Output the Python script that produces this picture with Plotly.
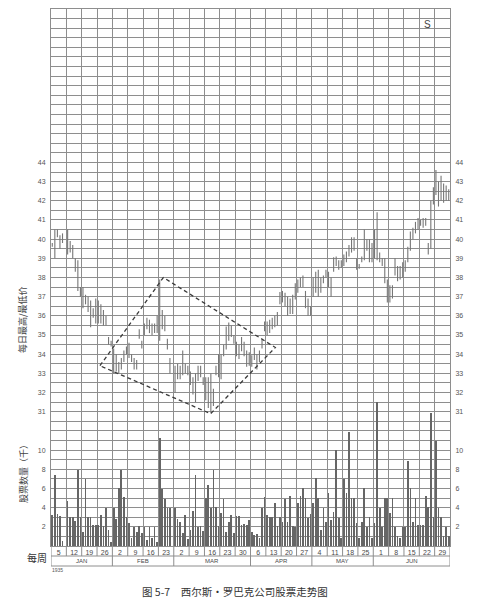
import plotly.graph_objects as go

# ---------------- data ----------------
week_labels = ["5", "12", "19", "26", "2", "9", "16", "23", "2", "9", "16", "23", "30",
               "6", "13", "20", "27", "4", "11", "18", "25", "1", "8", "15", "22", "29"]
month_names = ["JAN", "FEB", "MAR", "APR", "MAY", "JUN"]
weeks_per_month = [4, 4, 5, 4, 4, 5]
year_label = "1935"

# daily highs / lows grouped by week (one inner list per week)
price_high = [
    [39.8, 40.5, 40.5, 40.2, 40.3],
    [40.5, 39.9, 39.7, 39.0, 38.9, 37.5],
    [37.5, 37.1, 37.0, 36.8, 36.4, 36.9],
    [36.8, 36.6, 36.3, 36.0, 34.9, 34.7],
    [34.3, 34.0, 33.6, 33.8, 34.2, 34.4],
    [34.6, 34.0, 33.8, 33.7, 35.3, 34.7],
    [35.6, 35.9, 35.8, 35.6, 35.6, 36.0],
    [37.9, 36.3, 36.0, 34.8, 33.8],
    [33.4, 33.5, 33.4, 34.2, 33.5, 33.4],
    [33.1, 32.8, 33.0, 33.4, 33.4, 32.8],
    [32.8, 32.8, 33.0, 32.2, 33.4, 34.0],
    [34.0, 34.5, 35.45, 35.65, 35.5, 35.0],
    [34.65, 34.5, 34.9, 34.65, 34.2, 34.1],
    [33.95, 34.35, 34.0, 34.2, 34.75, 35.7],
    [35.7, 35.8, 35.9, 36.0, 36.2, 37.25],
    [37.3, 37.2, 37.0, 36.9, 37.1, 37.7],
    [37.9, 38.0, 38.1, 37.3, 36.9, 36.5],
    [38.0, 38.3, 38.4, 38.0, 38.1, 38.4],
    [38.3, 38.0, 39.05, 39.1, 38.9, 38.9],
    [39.2, 39.35, 39.7, 40.1, 40.1, 39.0],
    [38.7, 39.1, 40.5, 40.0, 40.0, 39.8],
    [40.5, 41.4, 39.3, 39.0, 39.0, 37.9],
    [37.6, 37.6, 39.0, 38.6, 38.6, 38.8],
    [38.9, 39.6, 40.4, 40.6, 40.9, 41.1],
    [41.0, 41.1, 41.1, 39.8, 42.0, 42.7],
    [43.6, 43.0, 43.3, 42.9, 42.8, 42.6],
]
price_low = [
    [39.6, 39.0, 40.1, 39.5, 39.8],
    [39.2, 39.3, 39.0, 38.3, 37.3, 37.0],
    [36.4, 36.6, 36.2, 35.4, 35.9, 35.6],
    [35.6, 35.6, 35.5, 35.5, 34.5, 34.4],
    [33.0, 33.1, 33.0, 33.2, 33.6, 34.0],
    [33.8, 33.6, 33.2, 33.2, 34.8, 34.3],
    [35.0, 35.3, 35.1, 35.0, 35.1, 35.1],
    [34.7, 35.3, 35.2, 34.25, 33.0],
    [32.0, 32.7, 32.7, 32.9, 33.0, 32.9],
    [32.4, 31.9, 31.5, 32.6, 32.8, 32.4],
    [31.6, 31.2, 30.95, 31.3, 32.9, 32.8],
    [32.7, 33.9, 34.25, 34.7, 34.9, 34.55],
    [33.9, 33.75, 34.15, 33.9, 33.35, 33.4],
    [33.35, 33.7, 33.2, 33.6, 34.3, 35.2],
    [35.0, 35.1, 35.3, 35.4, 35.5, 36.6],
    [36.7, 36.5, 36.0, 36.1, 36.1, 36.85],
    [37.2, 37.5, 37.5, 36.4, 36.0, 36.0],
    [37.0, 37.2, 37.0, 37.2, 37.7, 38.0],
    [37.5, 37.0, 38.3, 38.6, 38.4, 38.5],
    [38.6, 38.8, 39.1, 39.3, 39.4, 38.4],
    [38.45, 38.8, 38.9, 39.4, 38.8, 38.8],
    [39.0, 38.9, 38.8, 38.6, 37.7, 36.7],
    [36.7, 36.9, 38.1, 37.8, 37.9, 38.0],
    [38.3, 38.8, 39.4, 40.0, 40.3, 40.5],
    [40.7, 40.6, 40.7, 39.2, 39.5, 41.8],
    [42.3, 41.7, 42.0, 41.9, 42.0, 42.0],
]
# daily volume (thousands of shares), grouped by week
volume = [
    [3.2, 7.4, 3.3, 3.1, 0.5],
    [4.7, 3.0, 3.0, 2.6, 7.9, 3.0],
    [1.5, 7.0, 3.0, 3.0, 2.2, 2.2],
    [2.2, 3.2, 2.1, 4.0, 1.7, 0.4],
    [4.0, 2.8, 6.0, 7.9, 5.1, 3.0],
    [2.4, 0.8, 2.0, 1.5, 2.1, 1.4],
    [2.0, 0.6, 2.0, 0.8, 2.0, 0.4],
    [11.3, 5.9, 4.9, 4.0, 4.0],
    [4.0, 2.8, 2.5, 1.4, 3.2, 0.7],
    [1.7, 3.7, 7.4, 2.0, 2.1, 1.6],
    [5.0, 6.4, 4.0, 7.9, 4.1, 2.1],
    [3.4, 4.9, 1.5, 2.5, 3.2, 1.4],
    [3.1, 3.1, 2.2, 2.3, 2.2, 2.7],
    [1.5, 1.1, 1.3, 0.8, 4.0, 5.1],
    [3.2, 3.0, 3.0, 4.5, 2.1, 3.0],
    [2.5, 4.9, 2.5, 5.2, 2.1, 2.0],
    [4.5, 5.2, 6.0, 5.0, 2.9, 3.3],
    [4.5, 7.1, 5.0, 1.7, 4.0, 2.5],
    [5.5, 2.7, 3.5, 10.0, 2.9, 0.8],
    [7.0, 5.5, 11.9, 5.0, 5.0, 2.4],
    [0.8, 2.5, 6.0, 2.0, 3.0, 0.8],
    [2.4, 15.0, 4.0, 2.0, 5.0, 5.0],
    [3.4, 5.0, 2.0, 1.0, 0.8, 2.0],
    [2.0, 8.9, 6.0, 2.5, 5.0, 2.2],
    [2.2, 2.2, 5.2, 4.1, 13.9, 3.0],
    [11.0, 4.0, 3.0, 1.0, 2.0, 1.0],
]
# dashed "diamond" (rotated rectangle) vertices: (week position, price)
diamond_x = [3.19, 7.32, 14.62, 10.4, 3.19]
diamond_y = [33.4, 38.0, 34.35, 30.9, 33.4]

price_ticks = list(range(31, 45))
volume_ticks = [2, 4, 6, 8, 10]

# ---------------- build ----------------
SLOTS = 6
GRID = "#8e8e8e"
TXT = "#4a4a4a"
FONT = "Liberation Sans, Arial, sans-serif"
CJK = "Noto Sans CJK SC, sans-serif"

# the page body has an 8px default margin: size the figure so it fits the 495x599 window
PAGE_OFF = 8
FIG_W, FIG_H = 495 - PAGE_OFF, 599 - PAGE_OFF
PLOT_L, PLOT_T, PLOT_W, PLOT_H = 51, 9, 399, 537   # plot area in window pixels

day_x, hi, lo, vol = [], [], [], []
for w, (hs, ls, vs) in enumerate(zip(price_high, price_low, volume)):
    for d, (h, l, v) in enumerate(zip(hs, ls, vs)):
        day_x.append(w + (d + 0.5) / SLOTS)
        hi.append(h)
        lo.append(l)
        vol.append(v)

lx, ly = [], []
for x, h, l in zip(day_x, hi, lo):
    lx += [x, x, None]
    ly += [l, h, None]

n_weeks = len(week_labels)
P_MIN, P_MAX = 24, 52
V_MIN, V_MAX = 0, 56

fig = go.Figure()
fig.add_trace(go.Bar(x=day_x, y=vol, yaxis="y2", width=0.045,
                     marker=dict(color="#666666", line=dict(width=0)),
                     showlegend=False, hoverinfo="skip"))
fig.add_trace(go.Scatter(x=lx, y=ly, mode="lines", line=dict(color="#767676", width=1.1),
                         showlegend=False, hoverinfo="skip", connectgaps=False))
fig.add_trace(go.Scatter(x=diamond_x, y=diamond_y, mode="lines",
                         line=dict(color="#3a3a3a", width=1.3, dash="4px,3px"),
                         showlegend=False, hoverinfo="skip"))
fig.add_trace(go.Scatter(x=[None], y=[None], yaxis="y3", showlegend=False, hoverinfo="skip"))
fig.add_trace(go.Scatter(x=[None], y=[None], yaxis="y4", showlegend=False, hoverinfo="skip"))

half_steps = [P_MIN + 0.5 * i for i in range(1, int((P_MAX - P_MIN) * 2))]
half_text = [str(int(v)) if (v == int(v) and int(v) in price_ticks) else "" for v in half_steps]

tickfont = dict(family=FONT, size=7, color="#555555")
m_l = PLOT_L - PAGE_OFF
m_t = PLOT_T - PAGE_OFF
m_r = FIG_W - m_l - PLOT_W
m_b = FIG_H - m_t - PLOT_H
fig.update_layout(
    width=FIG_W, height=FIG_H,
    margin=dict(l=m_l, r=m_r, t=m_t, b=m_b, autoexpand=False),
    paper_bgcolor="white", plot_bgcolor="white",
    bargap=0,
    xaxis=dict(range=[0, n_weeks], tickvals=[i + 0.5 for i in range(n_weeks)],
               ticktext=week_labels, ticks="", showgrid=False, zeroline=False,
               minor=dict(tickvals=list(range(n_weeks + 1)), showgrid=True,
                          gridcolor=GRID, gridwidth=1, ticks=""),
               showline=True, mirror=True, linecolor=GRID, linewidth=1,
               tickfont=dict(family=FONT, size=7, color=TXT), fixedrange=True,
               automargin=False),
    yaxis=dict(range=[P_MIN, P_MAX], tickvals=half_steps, ticktext=half_text,
               showgrid=True, gridcolor=GRID, gridwidth=1, zeroline=False,
               ticks="outside", ticklen=3, tickcolor="rgba(0,0,0,0)",
               showline=True, mirror=True, linecolor=GRID, linewidth=1,
               tickfont=tickfont, fixedrange=True, automargin=False),
    yaxis2=dict(overlaying="y", side="left", range=[V_MIN, V_MAX], tickvals=volume_ticks,
                showgrid=False, zeroline=False, showline=False,
                ticks="outside", ticklen=3, tickcolor="rgba(0,0,0,0)",
                tickfont=tickfont, fixedrange=True, automargin=False),
    yaxis3=dict(overlaying="y", side="right", range=[P_MIN, P_MAX], tickvals=price_ticks,
                showgrid=False, zeroline=False, showline=False,
                ticks="outside", ticklen=3, tickcolor="rgba(0,0,0,0)",
                tickfont=tickfont, fixedrange=True, automargin=False),
    yaxis4=dict(overlaying="y", side="right", range=[V_MIN, V_MAX], tickvals=volume_ticks,
                showgrid=False, zeroline=False, showline=False,
                ticks="outside", ticklen=3, tickcolor="rgba(0,0,0,0)",
                tickfont=tickfont, fixedrange=True, automargin=False),
)

# label rows below the chart (week row and month row)
row1 = -10 / PLOT_H
row2 = -20 / PLOT_H
shapes = []
for yy in (row1, row2):
    shapes.append(dict(type="line", xref="x", yref="paper", x0=0, x1=n_weeks, y0=yy, y1=yy,
                       line=dict(color=GRID, width=1)))
for i in range(n_weeks + 1):
    shapes.append(dict(type="line", xref="x", yref="paper", x0=i, x1=i, y0=0, y1=row1,
                       line=dict(color=GRID, width=1)))
bounds = [0]
for n in weeks_per_month:
    bounds.append(bounds[-1] + n)
for b in bounds:
    shapes.append(dict(type="line", xref="x", yref="paper", x0=b, x1=b, y0=row1, y1=row2,
                       line=dict(color=GRID, width=1)))
fig.update_layout(shapes=shapes)


def px_x(px):
    return (px - PLOT_L) / PLOT_W


def px_y(py):
    return (PLOT_T + PLOT_H - py) / PLOT_H


ann = []
for name, a, b in zip(month_names, bounds[:-1], bounds[1:]):
    ann.append(dict(x=(a + b) / 2, y=(row1 + row2) / 2, xref="x", yref="paper", text=name,
                    showarrow=False, font=dict(family=FONT, size=6, color=TXT),
                    xanchor="center", yanchor="middle"))
ann += [
    dict(x=px_x(427.7), y=px_y(24), text="S",
         font=dict(family=FONT, size=10, color="#444")),
    dict(x=px_x(22), y=px_y(320), text="每日最高/最低价", textangle=-90,
         font=dict(family=CJK, size=9, color="#444")),
    dict(x=px_x(23), y=px_y(472), text="股票数量（千）", textangle=-90,
         font=dict(family=CJK, size=9, color="#444")),
    dict(x=px_x(37), y=px_y(557), text="每周",
         font=dict(family=CJK, size=10, color="#333")),
    dict(x=px_x(57), y=px_y(570), text=year_label,
         font=dict(family=FONT, size=5, color="#555")),
    dict(x=px_x(235), y=px_y(591), text="图 5-7　西尔斯・罗巴克公司股票走势图",
         font=dict(family=CJK, size=10.5, color="#333")),
]
for a in ann[len(month_names):]:
    a.update(xref="paper", yref="paper", showarrow=False, xanchor="center", yanchor="middle")
fig.update_layout(annotations=ann)

fig.write_html("out.html")
